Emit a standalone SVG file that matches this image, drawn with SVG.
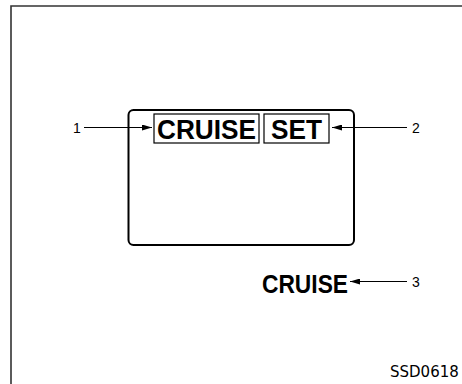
<svg xmlns="http://www.w3.org/2000/svg" width="462" height="384" viewBox="0 0 462 384">
<style>
.frame{fill:none;stroke:#333;stroke-width:1.6}
.box{fill:none;stroke:#000;stroke-width:2}
.tag{fill:none;stroke:#000;stroke-width:1.2}
.big{font-family:"Liberation Sans",Arial,sans-serif;font-weight:bold;fill:#000}
.num{font-family:"Liberation Sans",Arial,sans-serif;font-size:14px;fill:#000}
.ld{stroke:#000;stroke-width:1.2;fill:none}
.code{font-family:"DejaVu Sans",Verdana,sans-serif;font-size:15px;fill:#000}
</style>
<defs>
<marker id="ah" viewBox="0 0 10 6" refX="10" refY="3" markerWidth="10" markerHeight="6" markerUnits="userSpaceOnUse" orient="auto">
<path d="M0,0 L10,3 L0,6 Z" fill="#000"/>
</marker>
</defs>
<path class="frame" d="M11,384 V6 H462"/>
<g id="display">
<rect class="box" x="128.5" y="110" width="225.5" height="135" rx="5"/>
</g>
<g id="cruise-indicator">
<rect class="tag" x="154" y="114" width="105" height="29"/>
<text class="big" x="157" y="139" font-size="27" textLength="99" lengthAdjust="spacingAndGlyphs">CRUISE</text>
</g>
<g id="set-indicator">
<rect class="tag" x="264" y="114" width="65" height="29"/>
<text class="big" x="271" y="139" font-size="27" textLength="51" lengthAdjust="spacingAndGlyphs">SET</text>
</g>
<g id="cruise-lamp">
<text class="big" x="262" y="293" font-size="25" textLength="86" lengthAdjust="spacingAndGlyphs">CRUISE</text>
</g>
<g id="connectors">
<line class="ld" x1="84" y1="127.5" x2="152" y2="127.5" marker-end="url(#ah)"/>
<line class="ld" x1="407" y1="127.5" x2="332" y2="127.5" marker-end="url(#ah)"/>
<line class="ld" x1="407" y1="281.5" x2="350" y2="281.5" marker-end="url(#ah)"/>
</g>
<g id="labels">
<text class="num" x="73" y="132.5">1</text>
<text class="num" x="412" y="132.5">2</text>
<text class="num" x="412" y="286.5">3</text>
</g>
<text class="code" x="390" y="377">SSD0618</text>
</svg>
